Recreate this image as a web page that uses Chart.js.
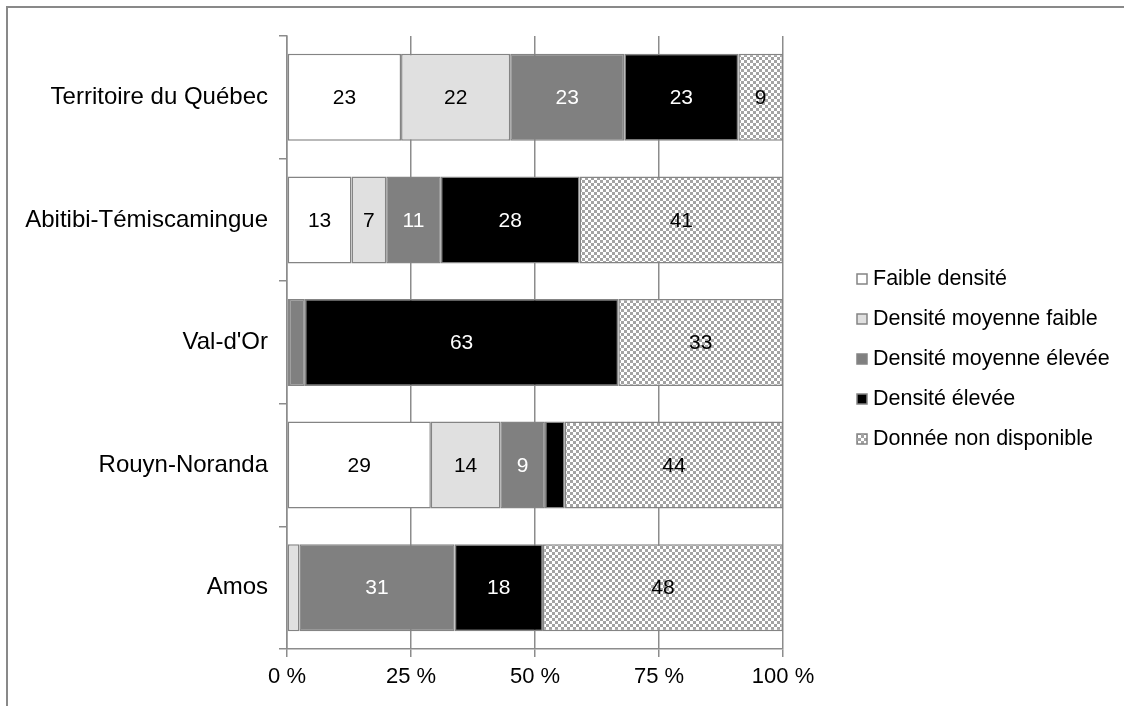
<!DOCTYPE html>
<html>
<head>
<meta charset="utf-8">
<script src="https://cdn.jsdelivr.net/npm/chart.js@4.4.0/dist/chart.umd.min.js"></script>
<style>
  html, body { margin: 0; padding: 0; background: #fff; }
  #wrap { width: 1124px; height: 706px; }
</style>
</head>
<body>
<div id="wrap"><canvas id="c" width="1124" height="706"></canvas></div>
<script>
// catégories (de haut en bas) et séries en %
var categories = ['Territoire du Québec', 'Abitibi-Témiscamingue', "Val-d'Or", 'Rouyn-Noranda', 'Amos'];
var seriesNames = ['Faible densité', 'Densité moyenne faible', 'Densité moyenne élevée', 'Densité élevée', 'Donnée non disponible'];
var faible    = [23, 13, 0.4, 29, 0];
var moyFaible = [22, 7, 0, 14, 2.5];
var moyElevee = [23, 11, 3.2, 9, 31.3];
var elevee    = [23, 28, 63.2, 4, 17.8];
var nonDispo  = [9, 41, 33.2, 44, 48.4];
var xTicks = [0, 25, 50, 75, 100];

var FONT = 'Liberation Sans, Arial, sans-serif';
var GRID = '#8c8c8c';

// motif damier pour "Donnée non disponible"
function checker() {
  var pc = document.createElement('canvas');
  pc.width = 6; pc.height = 6;
  var p = pc.getContext('2d');
  p.fillStyle = '#ffffff'; p.fillRect(0, 0, 6, 6);
  p.fillStyle = '#a3a3a3';
  p.fillRect(0, 0, 3, 3); p.fillRect(3, 3, 3, 3);
  return p.createPattern(pc, 'repeat');
}
var pattern = checker();

var fills = ['#ffffff', '#e0e0e0', '#808080', '#000000', pattern];
var labelColors = ['#000', '#000', '#fff', '#fff', '#000'];
var values = [faible, moyFaible, moyElevee, elevee, nonDispo];

var datasets = values.map(function(v, i) {
  return {
    label: seriesNames[i],
    data: v,
    backgroundColor: fills[i],
    borderColor: '#848484',
    borderWidth: 1.5,
    borderSkipped: false,
    categoryPercentage: 1,
    barPercentage: 0.71
  };
});

// cadre gris (haut + gauche)
var framePlugin = {
  id: 'frame',
  beforeDraw: function(chart) {
    var ctx = chart.ctx;
    ctx.save();
    ctx.strokeStyle = '#898989';
    ctx.lineWidth = 2;
    ctx.beginPath();
    ctx.moveTo(7, 706); ctx.lineTo(7, 7); ctx.lineTo(1124, 7);
    ctx.stroke();
    ctx.restore();
  }
};

// étiquettes de valeur
var valuePlugin = {
  id: 'values',
  afterDatasetsDraw: function(chart) {
    var ctx = chart.ctx;
    ctx.save();
    ctx.font = '21px ' + FONT;
    ctx.textAlign = 'center';
    ctx.textBaseline = 'middle';
    chart.data.datasets.forEach(function(ds, i) {
      var meta = chart.getDatasetMeta(i);
      meta.data.forEach(function(bar, j) {
        var v = ds.data[j];
        if (v < 5) return;
        var cx = (bar.x + bar.base) / 2;
        ctx.fillStyle = labelColors[i];
        ctx.fillText(String(Math.round(v)), cx, bar.y + 1);
      });
    });
    ctx.restore();
  }
};

// légende à droite
var legendPlugin = {
  id: 'sideLegend',
  afterDraw: function(chart) {
    var ctx = chart.ctx;
    ctx.save();
    ctx.font = '21.5px ' + FONT;
    ctx.textBaseline = 'middle';
    ctx.textAlign = 'left';
    chart.data.datasets.forEach(function(ds, i) {
      var y = 279 + i * 40;
      ctx.fillStyle = ds.backgroundColor;
      ctx.fillRect(857, y - 5, 10, 10);
      ctx.strokeStyle = '#848484';
      ctx.lineWidth = 1.5;
      ctx.strokeRect(857, y - 5, 10, 10);
      ctx.fillStyle = '#000';
      ctx.fillText(ds.label, 873, y);
    });
    ctx.restore();
  }
};

new Chart(document.getElementById('c'), {
  type: 'bar',
  data: { labels: categories, datasets: datasets },
  options: {
    indexAxis: 'y',
    responsive: false,
    animation: false,
    layout: { padding: { left: 0, top: 36, right: 341, bottom: 0 } },
    plugins: {
      legend: { display: false },
      tooltip: { enabled: false }
    },
    scales: {
      x: {
        stacked: true,
        min: 0,
        max: 100,
        afterBuildTicks: function(scale) {
          scale.ticks = xTicks.map(function(v) { return { value: v }; });
        },
        afterFit: function(scale) { scale.height = 57; },
        ticks: {
          color: '#000',
          font: { family: FONT, size: 22 },
          padding: 7,
          maxRotation: 0,
          callback: function(v) { return v + ' %'; }
        },
        grid: { color: GRID, lineWidth: 1.5, tickLength: 8 },
        border: { color: GRID, width: 1.5 }
      },
      y: {
        stacked: true,
        afterFit: function(scale) { scale.width = 287; },
        ticks: {
          color: '#000',
          font: { family: FONT, size: 24 },
          padding: 11
        },
        grid: { drawOnChartArea: false, color: GRID, lineWidth: 1.5, tickLength: 8, offset: true },
        border: { color: GRID, width: 1.5 }
      }
    }
  },
  plugins: [framePlugin, valuePlugin, legendPlugin]
});
</script>
</body>
</html>
